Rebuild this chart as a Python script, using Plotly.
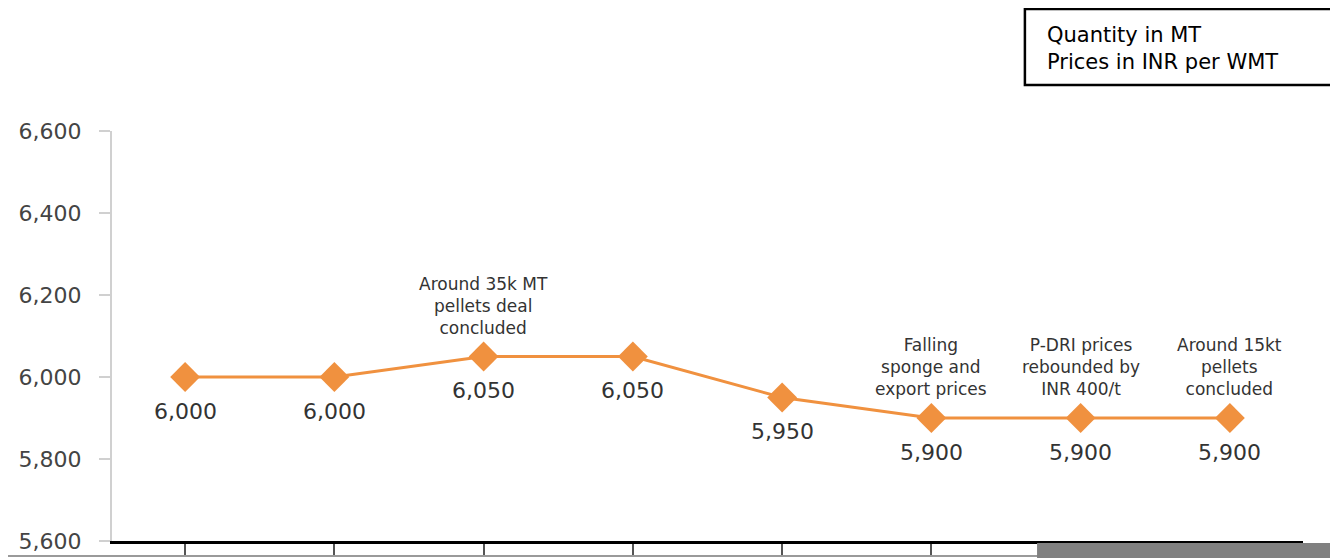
import plotly.graph_objects as go

# Data
periods = ["P1", "P2", "P3", "P4", "P5", "P6", "P7", "P8"]
prices = [6000, 6000, 6050, 6050, 5950, 5900, 5900, 5900]
notes = [
    "",
    "",
    "Around 35k MT<br>pellets deal<br>concluded",
    "",
    "",
    "Falling<br>sponge and<br>export prices",
    "P-DRI prices<br>rebounded by<br>INR 400/t",
    "Around 15kt<br>pellets<br>concluded",
]
y_ticks = [5600, 5800, 6000, 6200, 6400, 6600]
legend_lines = ["Quantity in MT", "Prices in INR per WMT"]

ORANGE = "#F0913F"
FONT = "DejaVu Sans"

fig = go.Figure()
fig.add_trace(go.Scatter(
    x=periods, y=prices, mode="lines+markers",
    line=dict(color=ORANGE, width=3),
    marker=dict(symbol="diamond", size=23, color=ORANGE),
    hoverinfo="skip", showlegend=False,
))

annotations = []
for p, v, n in zip(periods, prices, notes):
    annotations.append(dict(
        x=p, y=v, xref="x", yref="y", text=f"{v:,}", showarrow=False,
        yshift=-34, font=dict(family=FONT, size=22, color="#333333"),
    ))
    if n:
        annotations.append(dict(
            x=p, y=v, xref="x", yref="y", text=n, showarrow=False,
            yanchor="bottom", yshift=17,
            font=dict(family=FONT, size=17, color="#333333"),
        ))

annotations.append(dict(
    x=0.7835, y=1.2024, xref="paper", yref="paper", xanchor="left", yanchor="middle",
    align="left", showarrow=False, text="<br>".join(legend_lines),
    font=dict(family=FONT, size=21, color="#000000"),
))

shapes = [
    dict(type="rect", xref="paper", yref="paper", x0=0.7665, x1=1.0285,
         y0=1.1122, y1=1.2976, line=dict(color="#000000", width=2.5),
         fillcolor="rgba(0,0,0,0)"),
    dict(type="line", xref="paper", yref="paper", x0=-0.1, x1=1.04,
         y0=-0.0366, y1=-0.0366, line=dict(color="#9a9a9a", width=2)),
    dict(type="rect", xref="paper", yref="paper", x0=0.7767, x1=1.04,
         y0=-0.0049, y1=-0.045, line=dict(width=0), fillcolor="#808080"),
]

fig.update_layout(
    width=1338, height=558,
    margin=dict(l=104, r=43, t=123, b=25),
    paper_bgcolor="white", plot_bgcolor="white",
    font=dict(family=FONT),
    annotations=annotations, shapes=shapes,
    xaxis=dict(
        type="category", range=[-0.49, 7.49], showgrid=False, zeroline=False,
        automargin=False,
        showline=True, linecolor="#000000", linewidth=3,
        ticks="outside", ticklen=12, tickcolor="#555555", tickwidth=1.5,
        showticklabels=False,
    ),
    yaxis=dict(
        range=[5600, 6600], tickvals=y_ticks,
        ticktext=[f"{t:,}" for t in y_ticks],
        automargin=False,
        showgrid=False, zeroline=False,
        showline=True, linecolor="#d0d0d0", linewidth=2,
        ticks="outside", ticklen=11, tickcolor="#d0d0d0", tickwidth=2,
        ticklabelstandoff=13,
        tickfont=dict(family=FONT, size=22, color="#444444"),
    ),
)

fig.write_html("out.html")
